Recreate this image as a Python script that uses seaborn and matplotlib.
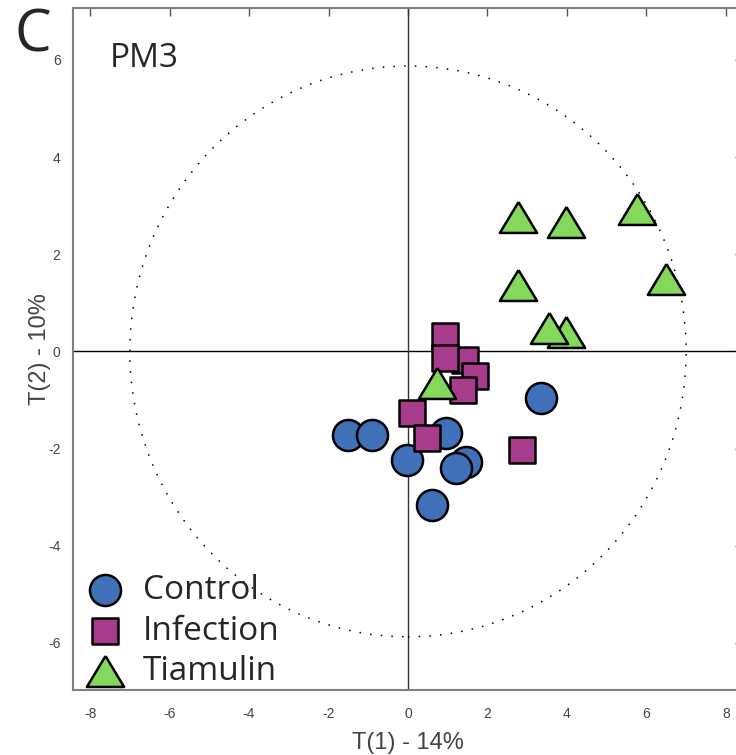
import matplotlib
matplotlib.use("Agg")
import matplotlib.pyplot as plt
from matplotlib.patches import Ellipse
import numpy as np
import pandas as pd
import seaborn as sns

# score values
ctrl_x = [-1.51, -0.91, -0.03, 0.96, 1.46, 1.21, 0.60, 3.35]
ctrl_y = [-1.73, -1.73, -2.24, -1.67, -2.28, -2.41, -3.17, -0.95]
inf_x = [1.43, 0.93, 0.93, 1.69, 1.38, 0.10, 0.48, 2.87]
inf_y = [-0.18, 0.31, -0.14, -0.51, -0.79, -1.26, -1.79, -2.02]
tia_x = [2.77, 3.97, 5.76, 2.77, 6.49, 3.97, 3.55, 0.73]
tia_y = [2.76, 2.67, 2.94, 1.36, 1.50, 0.41, 0.49, -0.64]

groups = ['Control', 'Infection', 'Tiamulin']
colors = ['#4070B8', '#A83C8C', '#84D85C']
ellipse_w, ellipse_h = 14.0, 11.75  # Hotelling T2 ellipse axes

df = pd.DataFrame({
    'T1': ctrl_x + inf_x + tia_x,
    'T2': ctrl_y + inf_y + tia_y,
    'group': ['Control'] * len(ctrl_x) + ['Infection'] * len(inf_x) + ['Tiamulin'] * len(tia_x),
})

sns.set_style('white')
plt.rcParams['font.family'] = ['Liberation Sans', 'DejaVu Sans']
plt.rcParams['axes.unicode_minus'] = False

fig = plt.figure(figsize=(7.36, 7.55), dpi=100)
ax = fig.add_axes([73 / 736, 65 / 755, 670 / 736, 682 / 755])

# closed triangle, a bit flatter than the default '^'
tri = [(0, 0.83), (-1, -0.83), (1, -0.83), (0, 0.83)]
markers = {'Control': 'o', 'Infection': 's', 'Tiamulin': tri}
sizes = {'Control': 500, 'Infection': 350, 'Tiamulin': 720}

for g, c in zip(groups, colors):
    sns.scatterplot(data=df[df['group'] == g], x='T1', y='T2', marker=markers[g],
                    s=sizes[g], color=c, edgecolor='black', linewidth=1.8,
                    label=g, ax=ax, zorder=3, legend=False)

ax.axhline(0, color='black', lw=1, zorder=1)
ax.axvline(0, color='#333333', lw=1, zorder=1)
ax.add_patch(Ellipse((0, 0), ellipse_w, ellipse_h, fill=False, edgecolor='black',
                     lw=1.1, linestyle=(0, (1, 6)), zorder=1))

ax.set_xlim(-8.43, 8.43)
ax.set_ylim(-6.97, 7.07)
ax.set_xticks(np.arange(-8, 9, 2))
ax.set_yticks(np.arange(-6, 7, 2))
ax.tick_params(direction='in', length=6, width=1, color='#555555', labelsize=10,
               labelcolor='#444444', top=True, right=True)
ax.tick_params(axis='x', pad=12)
ax.tick_params(axis='y', pad=9)
for sp in ax.spines.values():
    sp.set_color('#808080')
    sp.set_linewidth(1.5)

ax.set_xlabel('T(1) - 14%', fontsize=17, color='#444444', labelpad=8)
ax.set_ylabel('T(2) - 10%', fontsize=17, color='#444444', labelpad=-2)

ax.text(0.055, 0.95, 'PM3', transform=ax.transAxes, fontsize=24, va='top',
        family=['Open Sans', 'DejaVu Sans'])
fig.text(14 / 736, 1 - 7 / 755, 'C', fontsize=42, va='top', ha='left',
         family=['Open Sans', 'DejaVu Sans'])

leg = ax.legend(loc='lower left', bbox_to_anchor=(-0.042, -0.036), frameon=False,
                prop={'family': ['Open Sans', 'DejaVu Sans'], 'size': 24},
                handletextpad=0.15, labelspacing=0.22, borderpad=0.3)

plt.savefig('out.png', dpi=100)
